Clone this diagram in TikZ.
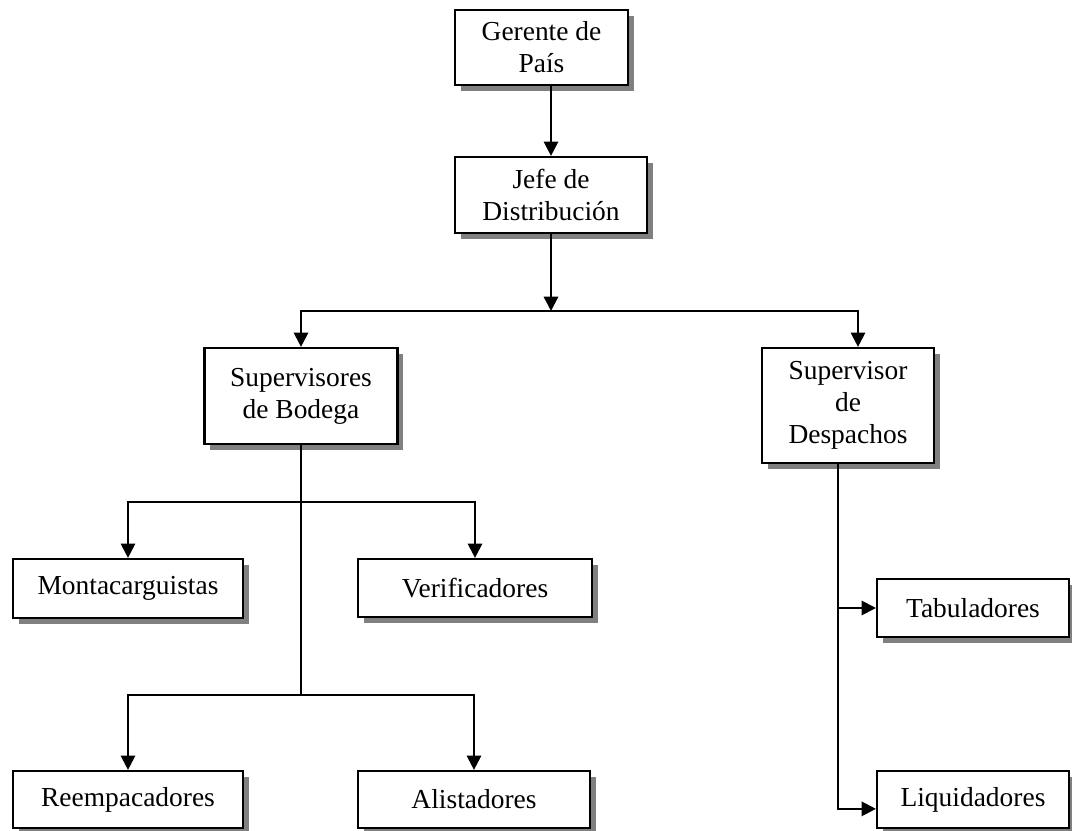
\documentclass[tikz,border=0pt]{standalone}
\usepackage{fontspec}
\setmainfont{Liberation Serif}
\usetikzlibrary{arrows.meta, shadows, calc, positioning}

\tikzset{
  caja/.style={draw, line width=1pt, fill=white, align=center, inner sep=2pt, font=\fontsize{12.5}{14.5}\selectfont,
    drop shadow={shadow xshift=0.09cm, shadow yshift=-0.09cm, fill=black!50, opacity=1}},
  flecha/.style={-{Triangle[length=6.5pt,width=6.5pt]}}
}

\begin{document}
\begin{tikzpicture}[x=0.016cm, y=-0.016cm, line width=1pt]
    \useasboundingbox (0, 0) rectangle (1072, 831);

    \node[caja, minimum width=2.768cm, minimum height=1.2cm] (ger) at (541.5, 47.5) {Gerente de\\País};
    \node[caja, minimum width=3.072cm, minimum height=1.216cm] (jef) at (551, 195) {Jefe de\\Distribución};

    \node[caja, minimum width=3.088cm, minimum height=1.536cm] (sup) at (301, 396) {Supervisores\\de Bodega};
    \node[caja, minimum width=2.752cm, minimum height=1.84cm] (des) at (848, 405.5) {Supervisor\\de\\Despachos};

    \node[caja, minimum width=3.68cm, minimum height=0.944cm] (mon) at (128, 588.5) {Montacarguistas};
    \node[caja, minimum width=3.744cm, minimum height=0.928cm] (ver) at (475, 588) {Verificadores};
    \node[caja, minimum width=3.68cm, minimum height=0.912cm] (ree) at (128, 799.5) {Reempacadores};
    \node[caja, minimum width=3.712cm, minimum height=0.912cm] (ali) at (474, 799.5) {Alistadores};

    \node[caja, minimum width=3.072cm, minimum height=0.928cm] (tab) at (973, 608) {Tabuladores};
    \node[caja, minimum width=3.072cm, minimum height=0.912cm] (liq) at (973, 799.5) {Liquidadores};

    \coordinate (r1) at (551, 311);
    \coordinate (r2) at (301, 502);
    \coordinate (r3) at (301, 695);
    \coordinate (r4) at (838, 463);

    \draw
    (jef |- ger.south) edge[flecha] (jef.north)
    (jef.south) edge[flecha] (r1);

    \draw[flecha] (r1) -| (sup.north);
    \draw[flecha] (r1) -| ([xshift=0.16cm]des.north);

    \draw (sup.south) -- (r3);
    \draw[flecha] (r2) -| (mon.north);
    \draw[flecha] (r2) -| (ver.north);
    \draw[flecha] (r3) -| (ree.north);
    \draw[flecha] (r3) -| (ali.north);

    \draw[flecha] (r4) |- ([yshift=-0.15cm]liq.west);
    \draw[flecha] (r4 |- tab.west) -- (tab.west);
\end{tikzpicture}
\end{document}
